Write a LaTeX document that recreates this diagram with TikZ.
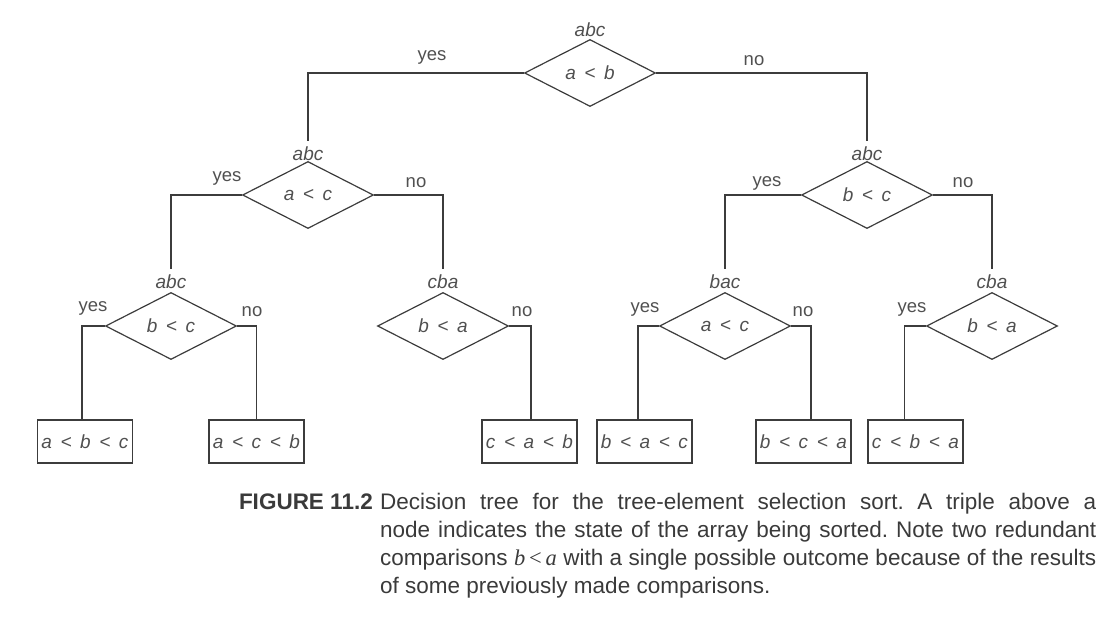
\documentclass[tikz,border=0pt]{standalone}
\usepackage{fontspec}
\setmainfont{Liberation Sans}
\newfontfamily\capserif{Liberation Serif}
\usetikzlibrary{shapes.geometric}
\definecolor{ink}{HTML}{3C3C3C}
\definecolor{txt}{HTML}{505050}
\definecolor{captxt}{HTML}{3A3A3A}
\newcommand\Lt{\hspace{0.45em}<\hspace{0.45em}}
\frenchspacing
\begin{document}
\begin{tikzpicture}[x=1pt,y=-1pt,
  dec/.style={diamond, draw=ink, line width=1.2pt, minimum width=131pt, minimum height=67pt,
    inner sep=0pt, font=\fontsize{19}{22}\selectfont\itshape, text=txt},
  leaf/.style={rectangle, draw=ink, line width=1.2pt, minimum width=95pt, minimum height=43pt,
    inner sep=0pt, font=\fontsize{19}{22}\selectfont\itshape, text=txt},
  trip/.style={font=\fontsize{19}{22}\selectfont\itshape, text=txt, inner sep=1pt, anchor=south},
  ans/.style={font=\fontsize{18.5}{22}\selectfont, text=txt, inner sep=0pt},
  conn/.style={draw=ink, line width=1.2pt}]
\useasboundingbox (0,0) rectangle (1116,626);
% decision nodes
\node[dec] (r) at (590,73) {a\Lt b};
\node[dec] (l) at (308,195) {a\Lt c};
\node[dec] (rr) at (867,195) {b\Lt c};
\node[dec] (la) at (171,326) {b\Lt c};
\node[dec] (lb) at (443,326) {b\Lt a};
\node[dec] (lc) at (725,326) {a\Lt c};
\node[dec] (ld) at (992,326) {b\Lt a};
% triples
\node[trip] (tr) at ([yshift=1pt]r.north) {abc};
\node[trip] (tl) at ([yshift=-1pt]l.north) {abc};
\node[trip] (trr) at ([yshift=-1pt]rr.north) {abc};
\node[trip] (tla) at ([yshift=2pt]la.north) {abc};
\node[trip] (tlb) at ([yshift=2pt]lb.north) {cba};
\node[trip] (tlc) at ([yshift=2pt]lc.north) {bac};
\node[trip] (tld) at ([yshift=2pt]ld.north) {cba};
% leaves
\node[leaf] (b1) at (85,441.5) {a\Lt b\Lt c};
\node[leaf] (b2) at (256.5,441.5) {a\Lt c\Lt b};
\node[leaf] (b3) at (529.5,441.5) {c\Lt a\Lt b};
\node[leaf] (b4) at (644.5,441.5) {b\Lt a\Lt c};
\node[leaf] (b5) at (803.5,441.5) {b\Lt c\Lt a};
\node[leaf] (b6) at (915.5,441.5) {c\Lt b\Lt a};
% connectors
\draw[conn] (r.west) -| ([yshift=5pt]tl.north);
\draw[conn] (r.east) -| ([yshift=5pt]trr.north);
\draw[conn] (l.west) -| ([yshift=5pt]tla.north);
\draw[conn] (l.east) -| ([yshift=5pt]tlb.north);
\draw[conn] (rr.west) -| ([yshift=5pt]tlc.north);
\draw[conn] (rr.east) -| ([yshift=5pt]tld.north);
\draw[conn] (la.west) -| ([xshift=-3pt]b1.north);
\draw[conn] (la.east) -| (b2.north);
\draw[conn] (lb.east) -| ([xshift=1.5pt]b3.north);
\draw[conn] (lc.west) -| ([xshift=-6.5pt]b4.north);
\draw[conn] (lc.east) -| ([xshift=7.5pt]b5.north);
\draw[conn] (ld.west) -| ([xshift=-11pt]b6.north);
% answers
\node[ans] (y1) at (432,57) {yes};
\node[ans] (n1) at (754,61) {no};
\node[ans] (y2) at (227,178) {yes};
\node[ans] (n2) at (416,183) {no};
\node[ans] (y3) at (767,183) {yes};
\node[ans] (n3) at (963,183) {no};
\node[ans] (y4) at (93,308) {yes};
\node[ans] (n4) at (252,312) {no};
\node[ans] (n5) at (522,312) {no};
\node[ans] (y6) at (645,309) {yes};
\node[ans] (n6) at (803,312) {no};
\node[ans] (y7) at (912,309) {yes};
% caption
\node[anchor=base east, inner sep=0pt, text=captxt, font=\fontsize{22.5}{28}\selectfont\bfseries] (fig) at (373,509) {FIGURE 11.2};
\node[anchor=north west, inner sep=0pt, text=captxt, text width=716pt, align=justify,
  font=\fontsize{22.5}{28}\selectfont] (cap) at (380,492.5)
  {\frenchspacing\hyphenpenalty=10000\exhyphenpenalty=10000
   Decision tree for the tree-element selection sort. A triple above a\linebreak
   node indicates the state of the array being sorted. Note two redundant\linebreak
   comparisons {\capserif\itshape b}\,{\capserif<}\,{\capserif\itshape a} with a single possible outcome because of the results\linebreak
   of some previously made comparisons.};
\end{tikzpicture}
\end{document}
